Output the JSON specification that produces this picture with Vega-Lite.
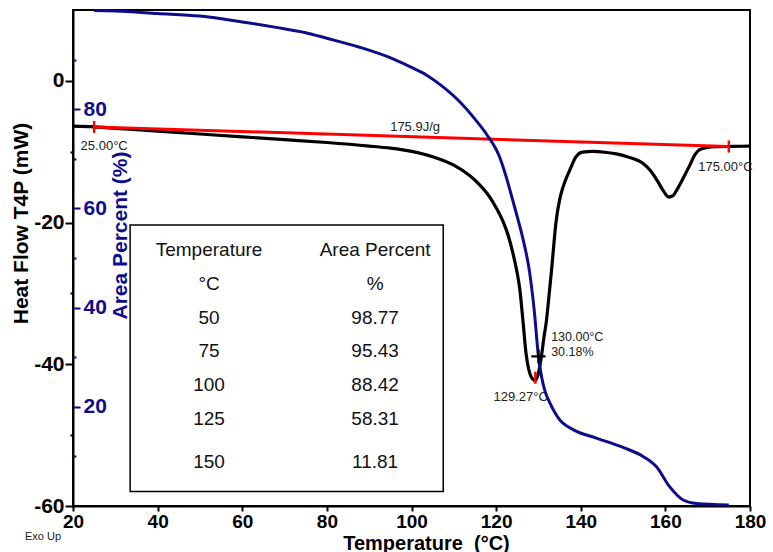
{
  "$schema": "https://vega.github.io/schema/vega-lite/v6.json",
  "width": 677,
  "height": 496,
  "autosize": "none",
  "padding": {"left": 73, "top": 10, "right": 23, "bottom": 46},
  "background": "white",
  "config": {
    "view": {"stroke": "black", "strokeWidth": 2},
    "axis": {"grid": false, "labelFont": "Liberation Sans", "titleFont": "Liberation Sans"},
    "text": {"font": "Liberation Sans"}
  },
  "encoding": {
    "x": {
      "field": "T", "type": "quantitative",
      "scale": {"domain": [20, 180], "nice": false, "zero": false},
      "axis": {
        "values": [20, 40, 60, 80, 100, 120, 140, 160, 180],
        "title": "Temperature \u00a0(°C)",
        "titleFontSize": 20, "titleFontWeight": "bold", "titleColor": "black",
        "titleX": 353, "titleY": 43, "titleBaseline": "alphabetic", "titleAlign": "center",
        "labelFontSize": 19, "labelFontWeight": "bold", "labelColor": "black",
        "labelPadding": 1, "tickSize": 5, "tickWidth": 2, "tickColor": "black",
        "domainColor": "black", "domainWidth": 2, "labelFlush": false, "labelOverlap": false
      }
    }
  },
  "layer": [
    {
      "encoding": {
        "y": {
          "field": "HF", "type": "quantitative",
          "scale": {"domain": [-60, 10], "nice": false, "zero": false},
          "axis": {
            "values": [-60, -50, -40, -30, -20, -10, 0],
            "labelExpr": "datum.value % 20 === 0 ? '' + datum.value : ''",
            "tickSize": {"condition": {"test": "datum.value % 20 === 0", "value": 8}, "value": 3},
            "tickWidth": 2, "tickColor": "black",
            "domainColor": "black", "domainWidth": 2,
            "labelFontSize": 21, "labelFontWeight": "bold", "labelColor": "black",
            "labelPadding": 1, "labelFlush": false, "labelOverlap": false,
            "title": "Heat Flow T4P (mW)",
            "titleFontSize": 21, "titleFontWeight": "bold", "titleColor": "black",
            "titleAngle": 270, "titleX": -46, "titleY": 213,
            "titleAlign": "center", "titleBaseline": "alphabetic"
          }
        }
      },
      "layer": [
        {
          "data": {"values": [{"T": 33.5, "T2": 107.5, "HF": -20.34, "HF2": -57.97}]},
          "mark": {"type": "rect", "fill": "white", "stroke": "black", "strokeWidth": 1.5},
          "encoding": {"x2": {"field": "T2"}, "y2": {"field": "HF2"}}
        },
        {
          "data": {"values": [
            {"T": 20, "HF": -6.4}, {"T": 25, "HF": -6.5}, {"T": 30, "HF": -6.7}, {"T": 40, "HF": -7.1},
            {"T": 50, "HF": -7.5}, {"T": 60, "HF": -7.9}, {"T": 70, "HF": -8.3}, {"T": 80, "HF": -8.7},
            {"T": 90, "HF": -9.2}, {"T": 95, "HF": -9.5}, {"T": 100, "HF": -9.95}, {"T": 105, "HF": -10.7},
            {"T": 110, "HF": -11.9}, {"T": 113.8, "HF": -13.4}, {"T": 116, "HF": -14.6}, {"T": 118.5, "HF": -16.4},
            {"T": 120, "HF": -17.9}, {"T": 121.6, "HF": -19.8}, {"T": 123, "HF": -22.1}, {"T": 124, "HF": -24.4},
            {"T": 125, "HF": -27.2}, {"T": 125.6, "HF": -29.4}, {"T": 126.3, "HF": -33.6}, {"T": 127.1, "HF": -38.6},
            {"T": 127.7, "HF": -40.7}, {"T": 128.3, "HF": -41.8}, {"T": 129.27, "HF": -42.3}, {"T": 129.9, "HF": -41.5},
            {"T": 130.7, "HF": -38.9}, {"T": 131.3, "HF": -36.2}, {"T": 131.9, "HF": -33.8}, {"T": 132.5, "HF": -30.3},
            {"T": 133.1, "HF": -26.7}, {"T": 134.2, "HF": -19.7}, {"T": 135, "HF": -16.8}, {"T": 135.8, "HF": -15.0},
            {"T": 137.4, "HF": -12.6}, {"T": 138.9, "HF": -10.7}, {"T": 140.4, "HF": -10.05}, {"T": 143, "HF": -9.95},
            {"T": 146, "HF": -10.1}, {"T": 148.4, "HF": -10.3}, {"T": 151, "HF": -10.7}, {"T": 154.6, "HF": -11.6},
            {"T": 156.5, "HF": -12.7}, {"T": 158.2, "HF": -14.2}, {"T": 159.6, "HF": -15.6}, {"T": 160.8, "HF": -16.4},
            {"T": 161.8, "HF": -16.2}, {"T": 162.6, "HF": -15.5}, {"T": 163.8, "HF": -14.2}, {"T": 165.7, "HF": -12.0},
            {"T": 167, "HF": -10.4}, {"T": 168.1, "HF": -9.7}, {"T": 170, "HF": -9.4}, {"T": 172, "HF": -9.3},
            {"T": 176, "HF": -9.25}, {"T": 180, "HF": -9.2}
          ]},
          "mark": {"type": "line", "color": "black", "strokeWidth": 3.2, "interpolate": "monotone"}
        },
        {
          "data": {"values": [{"T": 25, "HF": -6.5}, {"T": 175, "HF": -9.27}]},
          "mark": {"type": "line", "color": "#ff0000", "strokeWidth": 3}
        },
        {
          "data": {"values": [{"T": 25, "HF": -6.5}, {"T": 175, "HF": -9.27}, {"T": 129.27, "HF": -41.9}]},
          "mark": {"type": "point", "shape": "M0,-1V1", "filled": false, "color": "#ff0000", "strokeWidth": 2.5, "size": 144, "opacity": 1}
        },
        {
          "data": {"values": [
            {"T": 52.15, "HF": -23.86, "label": "Temperature"},
            {"T": 91.4, "HF": -23.86, "label": "Area Percent"},
            {"T": 52.15, "HF": -28.66, "label": "°C"},
            {"T": 91.4, "HF": -28.66, "label": "%"},
            {"T": 52.15, "HF": -33.46, "label": "50"},
            {"T": 91.4, "HF": -33.46, "label": "98.77"},
            {"T": 52.15, "HF": -38.12, "label": "75"},
            {"T": 91.4, "HF": -38.12, "label": "95.43"},
            {"T": 52.15, "HF": -42.92, "label": "100"},
            {"T": 91.4, "HF": -42.92, "label": "88.42"},
            {"T": 52.15, "HF": -47.71, "label": "125"},
            {"T": 91.4, "HF": -47.71, "label": "58.31"},
            {"T": 52.15, "HF": -53.79, "label": "150"},
            {"T": 91.4, "HF": -53.79, "label": "11.81"}
          ]},
          "mark": {"type": "text", "align": "center", "baseline": "middle", "fontSize": 19, "color": "#111111"},
          "encoding": {"text": {"field": "label"}}
        },
        {
          "data": {"values": [{"T": 100.85, "HF": -6.55, "label": "175.9J/g"}]},
          "mark": {"type": "text", "align": "center", "baseline": "middle", "fontSize": 13, "color": "#222222"},
          "encoding": {"text": {"field": "label"}}
        },
        {
          "data": {"values": [
            {"T": 21.8, "HF": -9.19, "label": "25.00°C"},
            {"T": 167.75, "HF": -12.1, "label": "175.00°C"},
            {"T": 119.36, "HF": -44.65, "label": "129.27°C"}
          ]},
          "mark": {"type": "text", "align": "left", "baseline": "middle", "fontSize": 13, "color": "#222222"},
          "encoding": {"text": {"field": "label"}}
        },
        {
          "data": {"values": [
            {"T": 133.0, "HF": -36.2, "label": "130.00°C"},
            {"T": 133.0, "HF": -38.3, "label": "30.18%"}
          ]},
          "mark": {"type": "text", "align": "left", "baseline": "middle", "fontSize": 12.5, "color": "#222222"},
          "encoding": {"text": {"field": "label"}}
        },
        {
          "data": {"values": [{"T": 8.65, "HF": -64.37, "label": "Exo Up"}]},
          "mark": {"type": "text", "align": "left", "baseline": "middle", "fontSize": 11, "color": "#222222"},
          "encoding": {"text": {"field": "label"}}
        }
      ]
    },
    {
      "encoding": {
        "y": {
          "field": "AP", "type": "quantitative",
          "scale": {"domain": [0, 100], "nice": false, "zero": false},
          "axis": {
            "orient": "right", "offset": -677,
            "values": [10, 20, 30, 40, 50, 60, 70, 80, 90],
            "labelExpr": "datum.value % 20 === 0 ? datum.label : ''",
            "tickSize": {"condition": {"test": "datum.value % 20 === 0", "value": 7}, "value": 3},
            "tickWidth": 2, "tickColor": "#0d0d8c", "domain": false,
            "labelFontSize": 21, "labelFontWeight": "bold", "labelColor": "#0d0d8c",
            "labelPadding": 3, "labelFlush": false, "labelOverlap": false,
            "title": "Area Percent (%)",
            "titleFontSize": 21, "titleFontWeight": "bold", "titleColor": "#0d0d8c",
            "titleAngle": 270, "titleX": 53, "titleY": 225,
            "titleAlign": "center", "titleBaseline": "alphabetic"
          }
        }
      },
      "layer": [
        {
          "data": {"values": [
            {"T": 25, "AP": 99.9}, {"T": 30, "AP": 99.8}, {"T": 40, "AP": 99.3}, {"T": 50, "AP": 98.77},
            {"T": 60, "AP": 97.6}, {"T": 68, "AP": 96.5}, {"T": 75, "AP": 95.43}, {"T": 80, "AP": 94.3},
            {"T": 87.7, "AP": 92.5}, {"T": 95.5, "AP": 90.2}, {"T": 100, "AP": 88.42}, {"T": 103.5, "AP": 86.9},
            {"T": 107, "AP": 84.8}, {"T": 111.4, "AP": 81.5}, {"T": 115, "AP": 78.0}, {"T": 117.7, "AP": 75.0},
            {"T": 120.8, "AP": 70.4}, {"T": 122.5, "AP": 66.0}, {"T": 124, "AP": 61.4}, {"T": 125, "AP": 58.31},
            {"T": 126.3, "AP": 54.0}, {"T": 127.9, "AP": 47.2}, {"T": 129.0, "AP": 39.5}, {"T": 130, "AP": 30.18},
            {"T": 130.8, "AP": 25.8}, {"T": 131.6, "AP": 23.0}, {"T": 132.7, "AP": 20.8}, {"T": 135, "AP": 17.4},
            {"T": 138.2, "AP": 15.4}, {"T": 143.7, "AP": 13.7}, {"T": 150, "AP": 11.81}, {"T": 154.7, "AP": 10.0},
            {"T": 157.9, "AP": 7.9}, {"T": 161, "AP": 3.9}, {"T": 164.2, "AP": 1.2}, {"T": 167.3, "AP": 0.5},
            {"T": 175, "AP": 0.2}
          ]},
          "mark": {"type": "line", "color": "#0d0d8c", "strokeWidth": 3, "interpolate": "monotone"}
        },
        {
          "data": {"values": [{"T": 130.0, "AP": 30.18}]},
          "mark": {"type": "point", "shape": "M-1,0H1M0,-1V1", "filled": false, "color": "black", "strokeWidth": 2.2, "size": 200, "opacity": 1}
        }
      ]
    }
  ],
  "resolve": {"scale": {"y": "independent"}}
}
